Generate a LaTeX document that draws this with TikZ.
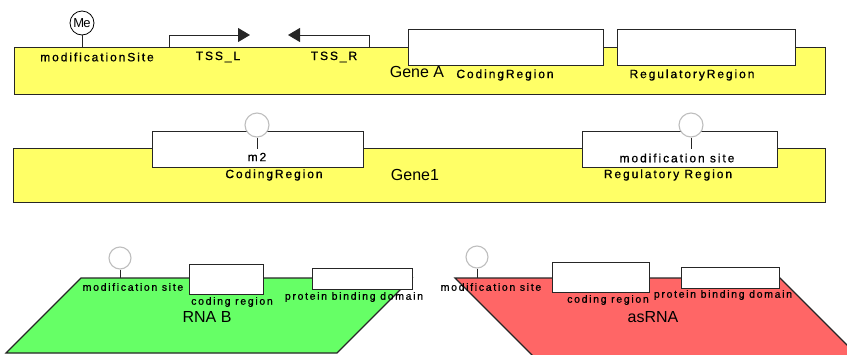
\documentclass[tikz,border=0pt]{standalone}
\usepackage{fontspec}
\setmainfont{Liberation Sans}
\usetikzlibrary{arrows.meta}
\definecolor{geneyellow}{RGB}{255,255,102}
\definecolor{rnagreen}{RGB}{102,255,102}
\definecolor{rnared}{RGB}{255,102,102}
\definecolor{sitegrey}{RGB}{190,190,190}
\newfontfamily\lblfont[LetterSpace=16,FakeBold=0.8]{Liberation Sans}
\newfontfamily\smlfont[LetterSpace=16,FakeBold=0.8]{Liberation Sans}
\newfontfamily\mefont[LetterSpace=-8]{Liberation Sans}
\begin{document}
\begin{tikzpicture}[x=1pt,y=-1pt,
  box/.style={draw=black!85,line width=1.1pt,inner sep=0pt,anchor=north west},
  genebox/.style={box,fill=geneyellow},
  regbox/.style={box,fill=white},
  lbl/.style={inner sep=0pt,font=\fontsize{12}{13}\lblfont},
  slbl/.style={inner sep=0pt,font=\fontsize{10.5}{11}\smlfont},
  biglbl/.style={inner sep=0pt,font=\fontsize{16}{17}\selectfont},
  mesite/.style={circle,draw=black,line width=0.8pt,fill=white,minimum size=24pt,inner sep=0pt,font=\fontsize{13}{13}\mefont},
  site/.style={circle,draw=sitegrey,line width=1.1pt,fill=white,minimum size=#1,inner sep=0pt},
  site/.default=24pt,
  stem/.style={draw=black!85,line width=1pt},
  tss/.style={draw=black!85,line width=1pt,-{Triangle[length=12pt,width=14pt]}}
]
\useasboundingbox (0,0) rectangle (847,354);
% ---------- Gene A ----------
\node[genebox,minimum width=811pt,minimum height=47pt] (geneA) at (14,47) {};
\node[mesite] (me) at (82,23) {Me};
\draw[stem] (me.south) -- (me.south |- geneA.north);
\coordinate (tssLbase) at (169,47);
\coordinate (tssLtip) at (250,35);
\draw[tss] (tssLbase) |- (tssLtip);
\coordinate (tssRbase) at (369,47);
\coordinate (tssRtip) at (288,35);
\draw[tss] (tssRbase) |- (tssRtip);
\node[regbox,minimum width=195pt,minimum height=36pt] (crA) at (408,29) {};
\node[regbox,minimum width=178pt,minimum height=36pt] (rrA) at (617,29) {};
\node[lbl] (msA) at (97,57) {modificationSite};
\node[lbl] (tssLlbl) at (218,57) {TSS\_L};
\node[lbl] (tssRlbl) at (334,57) {TSS\_R};
\node[biglbl] (geneAlbl) at (417,72) {Gene A};
\node[lbl] (crAlbl) at (505,75) {CodingRegion};
\node[lbl] (rrAlbl) at (692,75) {RegulatoryRegion};
% ---------- Gene1 ----------
\node[genebox,minimum width=812pt,minimum height=54pt] (gene1) at (13,148) {};
\node[regbox,minimum width=211pt,minimum height=36pt] (cr1) at (152,131) {};
\node[regbox,minimum width=195pt,minimum height=36pt] (rr1) at (582,131) {};
\node[site] (m2site) at (257,125) {};
\draw[stem] (m2site.south) -- ++(0,11);
\node[site] (ms1site) at (691,125) {};
\draw[stem] (ms1site.south) -- ++(0,11);
\node[lbl] (m2lbl) at (257,157) {m2};
\node[lbl] (cr1lbl) at (274,175) {CodingRegion};
\node[biglbl] (gene1lbl) at (415,175) {Gene1};
\node[lbl] (ms1lbl) at (677,158) {modification site};
\node[lbl] (rr1lbl) at (668,175) {Regulatory Region};
% ---------- RNA B ----------
\draw[fill=rnagreen,draw=black!85,line width=1.1pt] (81,278) -- (412,278) -- (337,353) -- (6,353) -- cycle;
\node[site=22pt] (msBsite) at (120,258) {};
\draw[stem] (msBsite.south) -- (120,278);
\node[regbox,minimum width=74pt,minimum height=30pt] (crB) at (189,264) {};
\node[regbox,minimum width=100pt,minimum height=21pt] (pbB) at (312,268) {};
\node[slbl] (msBlbl) at (133,287) {modification site};
\node[slbl] (crBlbl) at (232,302) {coding region};
\node[slbl] (pbBlbl) at (354,297) {protein binding domain};
\node[biglbl] (rnaBlbl) at (207,317) {RNA B};
% ---------- asRNA ----------
\draw[fill=rnared,draw=black!85,line width=1.1pt] (455,278) -- (780,278) -- (866,364) -- (541,364) -- cycle;
\node[site=22pt] (msRsite) at (477,257) {};
\draw[stem] (msRsite.south) -- (477,278);
\node[regbox,minimum width=97pt,minimum height=30pt] (crR) at (552,262) {};
\node[regbox,minimum width=98pt,minimum height=21pt] (pbR) at (681,267) {};
\node[slbl] (msRlbl) at (491,287) {modification site};
\node[slbl] (crRlbl) at (608,300) {coding region};
\node[slbl] (pbRlbl) at (723,295) {protein binding domain};
\node[biglbl] (asRNAlbl) at (653,317) {asRNA};
\end{tikzpicture}
\end{document}
